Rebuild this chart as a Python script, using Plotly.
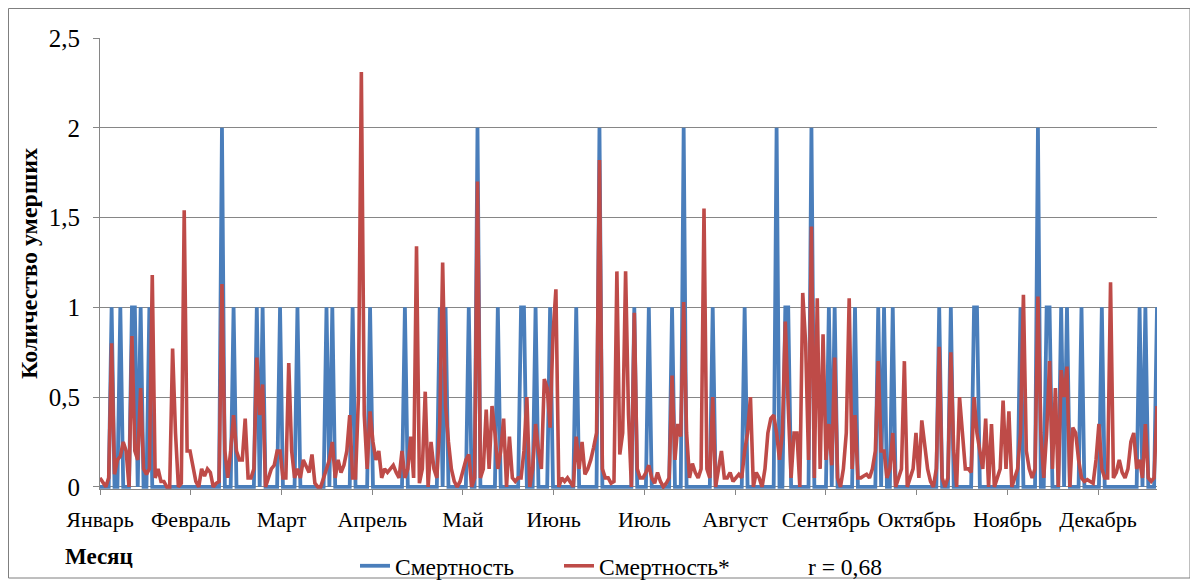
import plotly.graph_objects as go

months = ["Январь", "Февраль", "Март", "Апрель", "Май", "Июнь", "Июль",
          "Август", "Сентябрь", "Октябрь", "Ноябрь", "Декабрь"]

# Смертность: days (0..364) on which deaths occurred, and their counts (0 elsewhere)
death_days = [4, 7, 11, 12, 14, 17, 42, 46, 54, 56, 62, 68, 78, 80, 87, 93, 105, 117, 119,
              127, 130, 137, 145, 146, 150, 155, 164, 172, 184, 189, 197, 201, 211, 222,
              233, 236, 237, 245, 251, 253, 260, 268, 270, 273, 289, 293, 301, 302, 317,
              323, 326, 327, 331, 333, 338, 345, 358, 360, 364]
death_counts = [1, 1, 1, 1, 1, 1, 2, 1, 1, 1, 1, 1, 1, 1, 1, 1, 1, 1, 1,
                1, 2, 1, 1, 1, 1, 1, 1, 2, 1, 1, 1, 2, 1, 1,
                2, 1, 1, 2, 1, 1, 1, 1, 1, 1, 1, 1, 1, 1, 1,
                2, 1, 1, 1, 1, 1, 1, 1, 1, 1]

# Смертность* (model), one value per day
model_jan = [0.05, 0.02, 0.0, 0.05, 0.8, 0.07, 0.15, 0.17, 0.25, 0.2, 0.0, 0.84, 0.2, 0.15,
             0.55, 0.1, 0.07, 0.1, 1.18, 0.05, 0.1, 0.03, 0.03, 0.0, 0.0, 0.77, 0.3, 0.0,
             0.02, 1.54, 0.2]
model_feb = [0.2, 0.1, 0.03, 0.0, 0.1, 0.06, 0.1, 0.08, 0.0, 0.02, 0.03, 1.13, 0.2, 0.05,
             0.2, 0.4, 0.2, 0.15, 0.15, 0.38, 0.05, 0.05, 0.1, 0.72, 0.4, 0.57, 0.0, 0.05]
model_mar = [0.1, 0.12, 0.2, 0.2, 0.05, 0.05, 0.69, 0.2, 0.05, 0.1, 0.05, 0.15, 0.12, 0.08,
             0.18, 0.02, 0.0, 0.0, 0.05, 0.1, 0.15, 0.25, 0.05, 0.15, 0.08, 0.12, 0.2, 0.4,
             0.05, 0.05, 0.5]
model_apr = [2.31, 0.4, 0.1, 0.42, 0.25, 0.15, 0.2, 0.05, 0.1, 0.08, 0.1, 0.12, 0.08, 0.05,
             0.2, 0.05, 0.1, 0.28, 0.05, 1.34, 0.02, 0.1, 0.53, 0.0, 0.25, 0.1, 0.05, 0.35,
             1.25, 0.45]
model_may = [0.25, 0.1, 0.03, 0.0, 0.03, 0.1, 0.15, 0.18, 0.0, 0.05, 1.7, 0.05, 0.1, 0.43,
             0.1, 0.45, 0.3, 0.1, 0.2, 0.38, 0.0, 0.28, 0.05, 0.03, 0.05, 0.05, 0.2, 0.5,
             0.0, 0.1, 0.35]
model_jun = [0.2, 0.1, 0.6, 0.55, 0.33, 0.85, 1.1, 0.0, 0.05, 0.03, 0.05, 0.02, 0.0, 0.28,
             0.1, 0.25, 0.07, 0.1, 0.15, 0.22, 0.3, 1.82, 0.1, 0.05, 0.05, 0.02, 0.03, 1.2,
             0.18, 0.3]
model_jul = [1.2, 0.4, 0.0, 0.97, 0.1, 0.05, 0.05, 0.08, 0.12, 0.05, 0.02, 0.08, 0.03, 0.0,
             0.02, 0.05, 0.62, 0.15, 0.35, 0.28, 1.03, 0.3, 0.05, 0.13, 0.08, 0.05, 0.1,
             1.55, 0.1, 0.05, 0.5]
model_aug = [0.0, 0.1, 0.2, 0.05, 0.05, 0.08, 0.03, 0.05, 0.07, 0.05, 0.2, 0.3, 0.5, 0.0,
             0.08, 0.05, 0.0, 0.1, 0.3, 0.38, 0.4, 0.3, 0.15, 0.3, 0.92, 0.45, 0.05, 0.3,
             0.3, 0.0, 1.08]
model_sep = [0.8, 0.15, 1.45, 0.05, 1.05, 0.1, 0.85, 0.15, 0.35, 0.12, 0.72, 0.05, 0.0,
             0.1, 0.3, 1.05, 0.1, 0.4, 0.05, 0.05, 0.06, 0.07, 0.05, 0.1, 0.2, 0.7, 0.2,
             0.2, 0.05, 0.1]
model_oct = [0.3, 0.0, 0.05, 0.1, 0.7, 0.0, 0.05, 0.1, 0.3, 0.05, 0.37, 0.25, 0.1, 0.03,
             0.0, 0.1, 0.78, 0.05, 0.0, 0.05, 0.75, 0.2, 0.0, 0.5, 0.3, 0.1, 0.1, 0.08, 0.5,
             0.3, 0.2]
model_nov = [0.1, 0.38, 0.0, 0.35, 0.0, 0.05, 0.1, 0.48, 0.1, 0.42, 0.0, 0.05, 0.1, 0.3,
             1.07, 0.2, 0.1, 0.05, 0.1, 1.06, 0.3, 0.05, 0.3, 0.7, 0.1, 0.55, 0.0, 0.65, 0.5,
             0.67]
model_dec = [0.0, 0.33, 0.3, 0.15, 0.05, 0.03, 0.04, 0.03, 0.02, 0.15, 0.35, 0.1, 0.05,
             0.05, 1.14, 0.05, 0.08, 0.15, 0.08, 0.05, 0.1, 0.25, 0.3, 0.1, 0.15, 0.05, 0.35,
             0.05, 0.03, 0.05, 0.45]

model = (model_jan + model_feb + model_mar + model_apr + model_may + model_jun +
         model_jul + model_aug + model_sep + model_oct + model_nov + model_dec)
n_days = len(model)
days = list(range(n_days))
deaths = [0] * n_days
for d, c in zip(death_days, death_counts):
    deaths[d] = c

y_ticks = [0, 0.5, 1, 1.5, 2, 2.5]
y_ticktext = ["0", "0,5", "1", "1,5", "2", "2,5"]

BLUE = "#4A7EBB"
RED = "#BE4B48"
FONT = "Liberation Serif"
FS = 23

# the page body has an 8px margin: figure coordinates = screen coordinates - 8
OFF = 8
W, H = 1198 - OFF, 580 - OFF
L, T = 100 - OFF, 38 - OFF
PW, PH = 1057, 451
R = W - L - PW
B = H - T - PH
Y0 = T + PH  # y of the zero line in figure px


def px_x(sx):
    return (sx - OFF - L) / PW


def px_y(sy):
    return (Y0 - (sy - OFF)) / PH


fig = go.Figure()
fig.add_trace(go.Scatter(x=days, y=deaths, mode="lines", name="Смертность",
                         line=dict(color=BLUE, width=3.8)))
fig.add_trace(go.Scatter(x=days, y=model, mode="lines", name="Смертность*",
                         line=dict(color=RED, width=3.6)))

step = (n_days - 1) / 11.65
fig.update_layout(
    width=W, height=H,
    margin=dict(l=L, r=R, t=T, b=B, autoexpand=False),
    paper_bgcolor="white", plot_bgcolor="white",
    font=dict(family=FONT, size=FS, color="black"),
    showlegend=True,
    legend=dict(orientation="h", x=px_x(355), y=px_y(566),
                xanchor="left", yanchor="middle", entrywidth=159,
                font=dict(family=FONT, size=FS + 0.5), tracegroupgap=0,
                bgcolor="rgba(0,0,0,0)"),
    xaxis=dict(range=[0, n_days - 1], tickmode="array",
               tickvals=[i * step for i in range(12)], ticktext=months, tickangle=0,
               ticks="outside", ticklen=5, tickcolor="#868686",
               showline=True, linecolor="#868686", linewidth=1,
               showgrid=False, zeroline=False,
               tickfont=dict(family=FONT, size=FS - 1), ticklabelstandoff=6),
    yaxis=dict(range=[-0.012, 2.5], tickmode="array", tickvals=y_ticks, ticktext=y_ticktext,
               ticks="outside", ticklen=6, tickcolor="#868686",
               showline=True, linecolor="#868686", linewidth=1,
               showgrid=True, gridcolor="#868686", gridwidth=1, zeroline=False,
               tickfont=dict(family=FONT, size=FS + 2), ticklabelstandoff=8,
               title=dict(text="<b>Количество умерших</b>",
                          font=dict(family=FONT, size=FS + 1), standoff=4)),
    annotations=[
        dict(text="<b>Месяц</b>", xref="paper", yref="paper", x=px_x(63),
             y=px_y(556), xanchor="left", yanchor="middle", showarrow=False,
             font=dict(family=FONT, size=FS)),
        dict(text="r = 0,68", xref="paper", yref="paper", x=px_x(806),
             y=px_y(567), xanchor="left", yanchor="middle", showarrow=False,
             font=dict(family=FONT, size=FS + 0.5)),
    ],
    shapes=[dict(type="rect", xref="paper", yref="paper",
                 x0=px_x(8.5), x1=px_x(1190), y0=px_y(578), y1=px_y(8.5),
                 line=dict(color="#7F7F7F", width=1), fillcolor="rgba(0,0,0,0)")],
)

fig.write_html("out.html")
